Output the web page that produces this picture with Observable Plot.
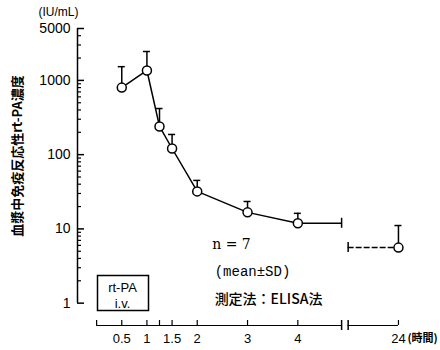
<!DOCTYPE html>
<html>
<head>
<meta charset="utf-8">
<script src="https://cdn.jsdelivr.net/npm/d3@7"></script>
<script src="https://cdn.jsdelivr.net/npm/@observablehq/plot@0.6"></script>
<style>
  html, body { margin: 0; padding: 0; background: #fff; }
  svg { display: block; }
</style>
</head>
<body>
<div id="chart"></div>
<script>
// ---- data ----
const hours     = [0.5, 1, 1.25, 1.5, 2, 3, 4, 24];
const meanConc  = [800, 1360, 240, 121, 32, 16.7, 11.9, 5.6];     // IU/mL
const upperConc = [1530, 2450, 418, 187, 45, 23.4, 16.2, 11.1];   // mean + SD
const xTickHours  = [0, 0.5, 1, 1.25, 1.5, 2, 3, 4, 24];
const xLabelHours = [0.5, 1, 1.5, 2, 3, 4, 24];
const yMajorTicks = [1, 10, 100, 1000, 5000];
const yMinorTicks = [2,3,4,5,6,7,8,9, 20,30,40,50,60,70,80,90, 200,300,400,500,600,700,800,900, 2000,3000,4000];
const yTitle   = "血漿中免疫反応性rt-PA濃度";
const yUnit    = "(IU/mL)";
const xUnit    = "(時間)";
const noteN    = "n = 7";
const noteStat = "(mean±SD)";
const noteMeth = "測定法：ELISA法";
const boxLines = ["rt-PA", "i.v."];

// ---- broken time axis: 24 h is drawn just after the break ----
const X_DOMAIN = [-0.38, 6.14];
const Y_DOMAIN = [0.5, 5000];
const axisBreak = [4.87, 5.0];
const pos = h => (h === 24 ? 6 : h);

const data = hours.map((h, i) => ({h, x: pos(h), mean: meanConc[i], upper: upperConc[i]}));
const early = data.filter(d => d.h <= 4);
const last4 = data.find(d => d.h === 4);
const last24 = data.find(d => d.h === 24);

const X0 = X_DOMAIN[0], Y0 = Y_DOMAIN[0];
const sw = 1.5;
const cjk = "'Noto Sans CJK JP', sans-serif";
const C = {textAnchor: "middle", lineAnchor: "middle"};

const chart = Plot.plot({
  width: 440,
  height: 350,
  marginLeft: 77,
  marginRight: 35,
  marginTop: 28,
  marginBottom: 25,
  style: {fontFamily: "'Liberation Sans', Arial, sans-serif", fontSize: "13px", color: "#000", background: "#fff"},
  x: {domain: X_DOMAIN, axis: null},
  y: {type: "log", domain: Y_DOMAIN, axis: null},
  marks: [
    // y axis
    Plot.ruleX([X0], {x: d => d, y1: 1, y2: 5000, strokeWidth: sw}),
    Plot.ruleY(yMajorTicks, {y: d => d, x1: X0, x2: X0, insetRight: -7, strokeWidth: sw}),
    Plot.ruleY(yMinorTicks, {y: d => d, x1: X0, x2: X0, insetRight: -4, strokeWidth: 1.2}),
    Plot.text(yMajorTicks, {x: X0, y: d => d, text: d => String(d), dx: -7, textAnchor: "end", lineAnchor: "middle", fontSize: 14}),
    // x axis (broken)
    Plot.ruleY([Y0], {y: d => d, x1: 0, x2: axisBreak[0], strokeWidth: 1.2}),
    Plot.ruleY([Y0], {y: d => d, x1: axisBreak[1], x2: pos(24), strokeWidth: 1.2}),
    Plot.ruleX(xTickHours.map(pos), {x: d => d, y1: Y0, y2: Y0, insetTop: -5, strokeWidth: 1.2}),
    Plot.ruleX(axisBreak, {x: d => d, y1: Y0, y2: Y0, insetTop: -5, insetBottom: -5, strokeWidth: 1.5}),
    Plot.text(xLabelHours, {x: d => pos(d), y: Y0, text: d => String(d), dy: 13, ...C, fontSize: 13}),
    Plot.text([xUnit], {text: d => d, x: pos(24), y: Y0, dx: 9, dy: 13, textAnchor: "start", lineAnchor: "middle", fontSize: 11, fontWeight: "bold", fontFamily: cjk}),
    // data line and the broken 4h -> 24h connection
    Plot.line(early, {x: "x", y: "mean", stroke: "#000", strokeWidth: sw}),
    Plot.ruleY([last4], {y: "mean", x1: "x", x2: axisBreak[0], strokeWidth: sw}),
    Plot.ruleX([last4], {x: () => axisBreak[0], y1: "mean", y2: "mean", insetTop: -5, insetBottom: -5, strokeWidth: sw}),
    Plot.ruleY([last24], {y: "mean", x1: axisBreak[1], x2: "x", strokeWidth: sw, strokeDasharray: "6,2"}),
    Plot.ruleX([last24], {x: () => axisBreak[1], y1: "mean", y2: "mean", insetTop: -5, insetBottom: -5, strokeWidth: sw}),
    // error bars (upper SD)
    Plot.ruleX(data, {x: "x", y1: "mean", y2: "upper", strokeWidth: sw}),
    Plot.ruleY(data, {y: "upper", x1: d => d.x - 0.07, x2: d => d.x + 0.07, strokeWidth: sw}),
    // points
    Plot.dot(data, {x: "x", y: "mean", r: 4.5, fill: "#fff", stroke: "#000", strokeWidth: sw}),
    // titles and notes
    Plot.text([yUnit], {text: d => d, frameAnchor: "top-left", dx: -19, dy: -16, ...C, fontSize: 12}),
    Plot.text([yTitle], {text: d => d, frameAnchor: "left", rotate: -90, dx: -60, dy: -21, ...C, fontSize: 13, fontWeight: "bold", fontFamily: cjk}),
    Plot.text([noteN], {text: d => d, frameAnchor: "bottom-left", dx: 154, dy: -81, ...C, fontSize: 14, fontFamily: "'DejaVu Serif', serif"}),
    Plot.text([noteStat], {text: d => d, frameAnchor: "bottom-left", dx: 175, dy: -54, ...C, fontSize: 14, fontFamily: "'Liberation Mono', monospace"}),
    Plot.text([noteMeth], {text: d => d, frameAnchor: "bottom-left", dx: 191, dy: -26, ...C, fontSize: 14, fontWeight: 500, fontFamily: cjk}),
    // rt-PA i.v. box
    Plot.frame({insetLeft: 20, insetRight: 257, insetTop: 247, insetBottom: 15, stroke: "#000", strokeWidth: sw}),
    Plot.text([boxLines[0]], {text: d => d, frameAnchor: "bottom-left", dx: 45, dy: -38, ...C, fontSize: 13}),
    Plot.text([boxLines[1]], {text: d => d, frameAnchor: "bottom-left", dx: 45, dy: -22, ...C, fontSize: 13})
  ]
});
document.getElementById("chart").appendChild(chart);
</script>
</body>
</html>
